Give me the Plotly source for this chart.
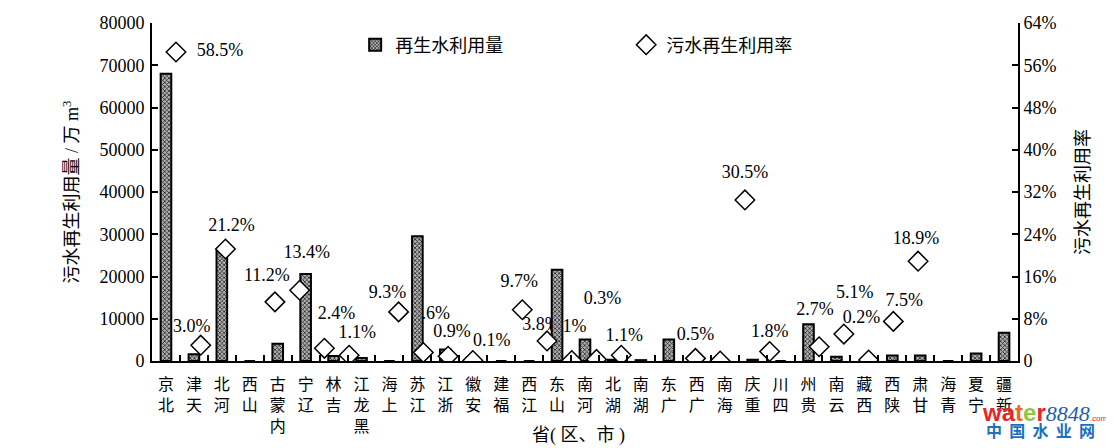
import plotly.graph_objects as go

provinces = ["北京", "天津", "河北", "山西", "内蒙古", "辽宁", "吉林", "黑龙江", "上海", "江苏",
             "浙江", "安徽", "福建", "江西", "山东", "河南", "湖北", "湖南", "广东", "广西",
             "海南", "重庆", "四川", "贵州", "云南", "西藏", "陕西", "甘肃", "青海", "宁夏", "新疆"]

# 再生水利用量 (万 m3)
reuse_volume = [68000, 1600, 26200, 0, 4100, 20600, 1200, 700, 0, 29500,
                2700, 0, 0, 0, 21600, 5100, 300, 200, 5100, 0,
                0, 300, 0, 8700, 1000, 0, 1300, 1300, 0, 1800, 6700]

# 污水再生利用率 (%) as plotted (None = no point)
reuse_rate = [58.5, 3.0, 21.2, None, 11.2, 13.4, 2.4, 1.1, None, 9.3,
              1.6, 0.9, 0.1, None, 9.7, 3.8, 0.1, 0.3, 1.1, None,
              None, 0.5, 0.0, 30.5, 1.8, None, 2.7, 5.1, 0.2, 7.5, 18.9]

rate_labels = ["58.5%", "3.0%", "21.2%", "", "11.2%", "13.4%", "2.4%", "1.1%", "", "9.3%",
               "1.6%", "0.9%", "0.1%", "", "9.7%", "3.8%", "0.1%", "0.3%", "1.1%", "",
               "", "0.5%", "", "30.5%", "1.8%", "", "2.7%", "5.1%", "0.2%", "7.5%", "18.9%"]

vol_ticks = [0, 10000, 20000, 30000, 40000, 50000, 60000, 70000, 80000]
rate_ticks = [0, 8, 16, 24, 32, 40, 48, 56, 64]

# label placement offsets in pixels (dx right, dy up) -- styling only
label_offsets = [(44, 1), (-9, 18), (6, 23), (0, 0), (-8, 25), (7, 37), (12, 34), (8, 22), (0, 0), (-11, 18),
                 (8, 38), (4, 24), (19, 19), (0, 0), (-3, 27), (-6, 15), (-4, 33), (6, 60), (3, 19), (0, 0),
                 (0, 0), (0, 23), (0, 0), (0, 26), (0, 19), (0, 0), (-4, 36), (11, 41), (-7, 41), (11, 20), (-2, 22)]

SERIF = "Liberation Serif, Noto Sans CJK SC, serif"

W, H = 1106, 440
ML, MR, MT, MB = 144, 96, 15, 87

n = len(provinces)
idx = list(range(n))
xr = [-0.97, 34.04]      # diamond series spacing
yr = [0, 64]
plot_w = W - ML - MR
plot_h = H - MT - MB
px_x = plot_w / (xr[1] - xr[0])
px_y = plot_h / (yr[1] - yr[0])

lab_x, lab_y, lab_t = [], [], []
for i, (r, t, (dx, dy)) in enumerate(zip(reuse_rate, rate_labels, label_offsets)):
    if r is None or not t:
        continue
    lab_x.append(i + dx / px_x)
    lab_y.append(r + dy / px_y)
    lab_t.append(t)

fig = go.Figure()

# labels (bottom layer, partly hidden by bars as in original)
fig.add_trace(go.Scatter(x=lab_x, y=lab_y, text=lab_t, mode="text", textposition="middle center",
                         textfont=dict(family=SERIF, size=18, color="black"),
                         showlegend=False, hoverinfo="skip", xaxis="x", yaxis="y"))

fig.add_trace(go.Bar(x=provinces, y=reuse_volume, name="再生水利用量", width=0.38,
                     marker=dict(color="#777777", line=dict(color="black", width=2),
                                 pattern=dict(shape="x", fgcolor="#222222", bgcolor="#b0b0b0",
                                              size=3, solidity=0.45)),
                     xaxis="x2", yaxis="y2"))

fig.add_trace(go.Scatter(x=idx, y=reuse_rate, name="污水再生利用率", mode="markers",
                         marker=dict(symbol="diamond", size=15, color="white",
                                     line=dict(color="black", width=1.5)),
                         xaxis="x3", yaxis="y3"))

axis_font = dict(family=SERIF, size=18, color="black")

fig.update_layout(
    width=W, height=H,
    margin=dict(l=ML, r=MR, t=MT, b=MB, autoexpand=False),
    paper_bgcolor="white", plot_bgcolor="white",
    template="none",
    font=dict(family=SERIF, size=18, color="black"),
    xaxis=dict(range=xr, visible=False, showgrid=False, zeroline=False),
    yaxis=dict(range=yr, side="right", showgrid=False, zeroline=False,
               showline=True, linecolor="black", linewidth=2,
               ticks="inside", ticklen=6, tickwidth=1.5, tickcolor="black",
               tickvals=rate_ticks, ticktext=[("0" if v == 0 else f"{v}%") for v in rate_ticks],
               tickfont=axis_font,
               title=dict(text="污水再生利用率", font=dict(family=SERIF, size=18), standoff=21)),
    xaxis2=dict(overlaying="x", anchor="y2", type="category", range=[-0.5, n - 0.5],
                showgrid=False, zeroline=False, showline=True, linecolor="black", linewidth=2,
                ticks="inside", tickson="boundaries", ticklen=6, tickwidth=1.5, tickcolor="black",
                tickvals=provinces, ticktext=["<br>".join(reversed(p)) for p in provinces],
                tickangle=0, ticklabelstandoff=8,
                tickfont=dict(family=SERIF, size=16, color="black")),
    yaxis2=dict(overlaying="y", anchor="x2", side="left", range=[0, 80000],
                showgrid=False, zeroline=False, showline=True, linecolor="black", linewidth=2,
                ticks="inside", ticklen=6, tickwidth=1.5, tickcolor="black",
                tickvals=vol_ticks, tickformat="d", tickfont=axis_font, ticklabelstandoff=2,
                title=dict(text="污水再生利用量 / 万 m<sup>3</sup>", font=dict(family=SERIF, size=18),
                           standoff=16)),
    xaxis3=dict(overlaying="x", range=xr, visible=False, showgrid=False, zeroline=False),
    yaxis3=dict(overlaying="y", range=yr, visible=False, showgrid=False, zeroline=False),
    legend=dict(orientation="h", x=0.2346, y=0.935, xanchor="left", yanchor="middle",
                bgcolor="rgba(0,0,0,0)", font=dict(family=SERIF, size=18),
                entrywidth=226, entrywidthmode="pixels", traceorder="normal"),
    showlegend=True,
)

# x-axis title
fig.add_annotation(xref="paper", yref="paper", x=0.492, y=0, xanchor="center", yanchor="middle",
                   yshift=-74, showarrow=False, text="省( 区、市 )",
                   font=dict(family=SERIF, size=18, color="black"))

# watermark
fig.add_annotation(xref="paper", yref="paper", x=1.0, y=0, xanchor="left", yanchor="middle",
                   xshift=-38, yshift=-51, showarrow=False, align="left",
                   text=("<b><span style='color:#e5262b'>wa</span><span style='color:#f26522'>t</span>"
                         "<span style='color:#8dc63f'>e</span><span style='color:#e5262b'>r</span></b>"
                         "<i><span style='color:#1d5fae;font-family:Liberation Serif;font-size:22px'>8848</span></i>"
                         "<span style='color:#e5262b;font-size:8px'>.com</span>"),
                   font=dict(family="Liberation Sans, Arial", size=24))
fig.add_annotation(xref="paper", yref="paper", x=1.0, y=0, xanchor="left", yanchor="middle",
                   xshift=-34, yshift=-69, showarrow=False,
                   text="<b>中&nbsp;&nbsp;国&nbsp;&nbsp;水&nbsp;&nbsp;业&nbsp;&nbsp;网</b>",
                   font=dict(family="Noto Sans CJK SC", size=16, color="#1d6fc0"))

fig.write_html("out.html")
